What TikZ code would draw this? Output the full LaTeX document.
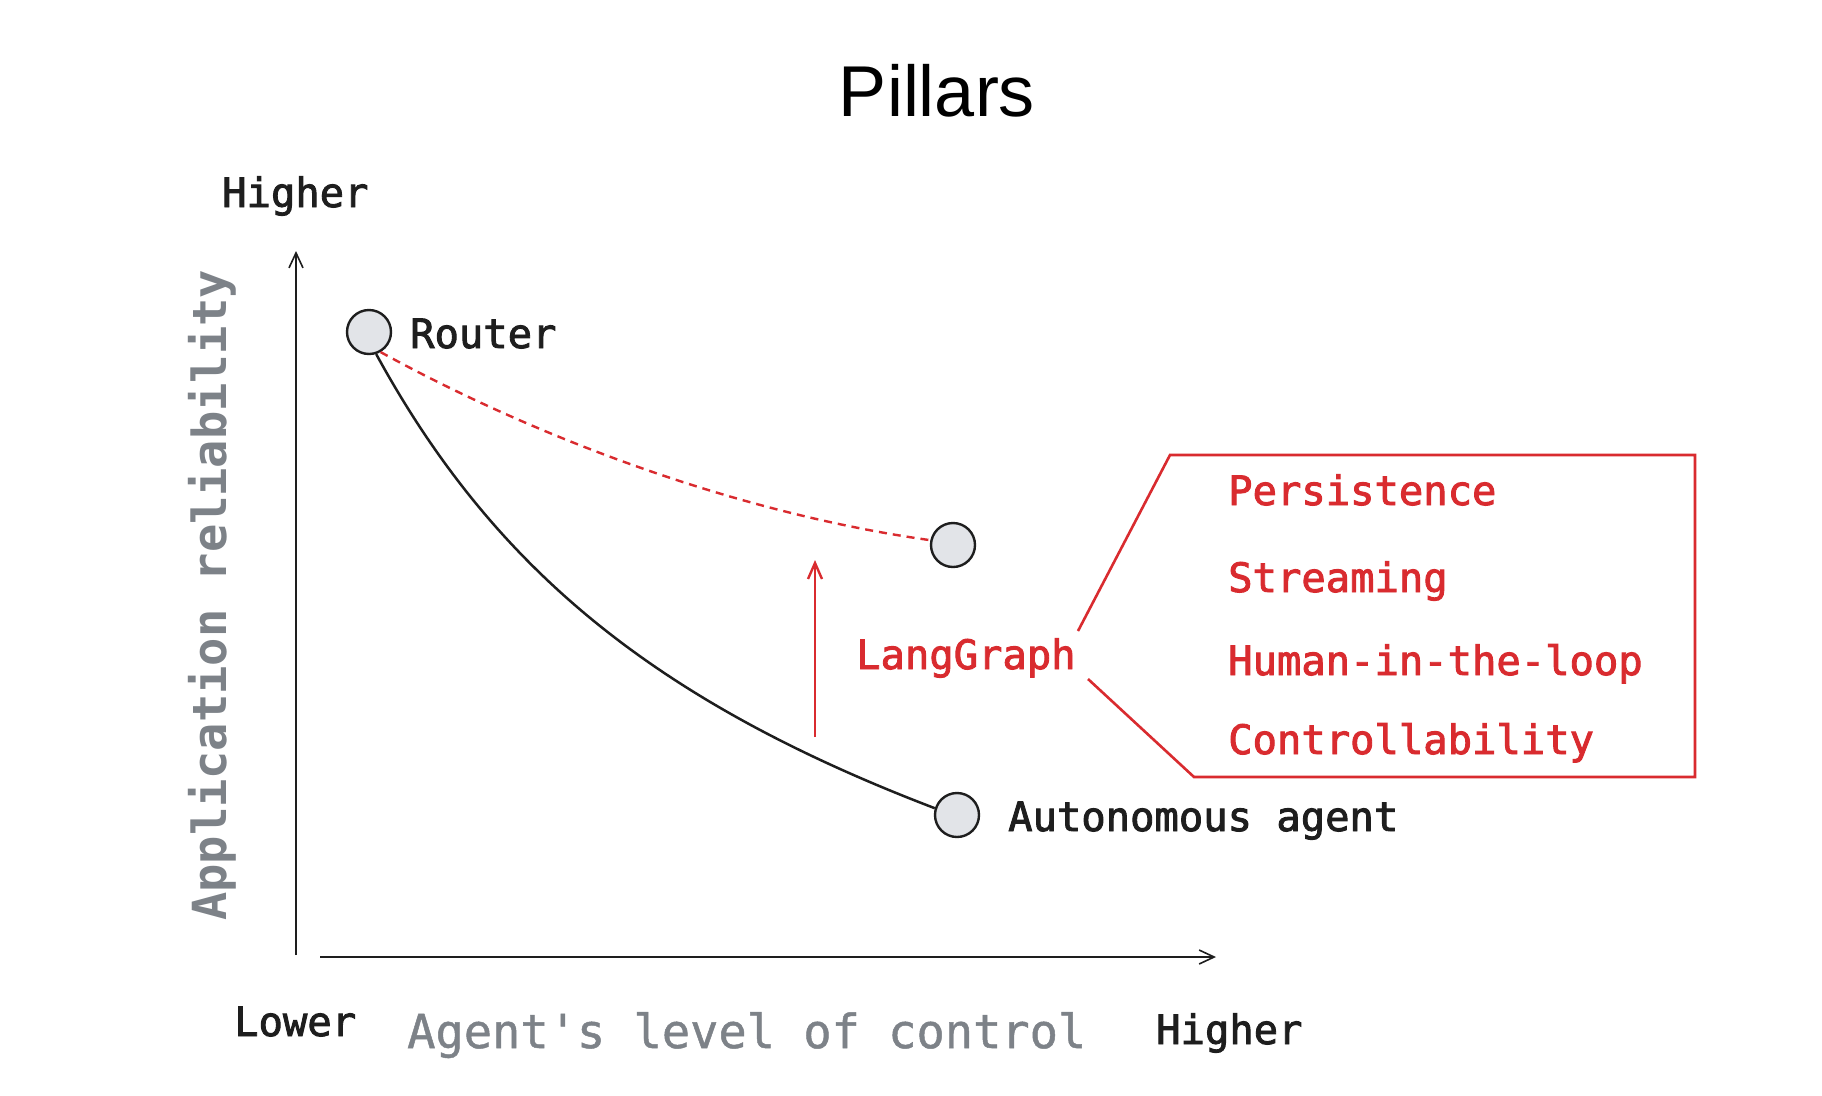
\documentclass[tikz,border=0pt]{standalone}
\usepackage{fontspec}
\setmainfont{Liberation Sans}
\newfontfamily\mymono[FakeBold=2.2]{DejaVu Sans Mono}
\newfontfamily\mymonolight[FakeBold=1.0]{DejaVu Sans Mono}
\newfontfamily\mymonobold{DejaVu Sans Mono Bold}
\usetikzlibrary{arrows.meta}
\definecolor{ink}{HTML}{1E1E1E}
\definecolor{lgred}{HTML}{D92B2F}
\definecolor{axisgray}{HTML}{7D8288}
\definecolor{dotfill}{HTML}{E2E4E8}
\tikzset{
  lbl/.style={anchor=base west, inner sep=0pt, text=ink, font=\mymono\fontsize{40.5}{48}\selectfont},
  redlbl/.style={lbl, text=lgred},
  axtitle/.style={anchor=base west, inner sep=0pt, text=axisgray},
  dot/.style={circle, draw=ink, fill=dotfill, line width=2.4pt, minimum size=44pt, inner sep=0pt},
  axisline/.style={draw=ink, line width=1.6pt, -{Straight Barb[length=15pt,width=14pt,line width=1.6pt]}},
  curveline/.style={draw=ink, line width=2.5pt},
  dashline/.style={draw=lgred, line width=2.4pt, dash pattern=on 8pt off 6pt},
  redarrow/.style={draw=lgred, line width=2.6pt, -{Straight Barb[length=16pt,width=14pt,line width=2.4pt]}},
  redbox/.style={draw=lgred, line width=2.6pt, line join=miter}
}
\begin{document}
\begin{tikzpicture}[x=1pt,y=-1pt]
\useasboundingbox[fill=white] (0,0) rectangle (1822,1095);

% title
\node[anchor=base, inner sep=0pt, text=black, font=\fontsize{72}{80}\selectfont] (title) at (937,116) {Pillars};

% axes
\coordinate (yb) at (296,955);
\coordinate (yt) at (296,251);
\coordinate (xl) at (320,957);
\coordinate (xr) at (1216,957);
\draw[axisline] (yb) -- (yt);
\draw[axisline] (xl) -- (xr);

% axis labels
\node[lbl] (yhigh) at (222,207) {Higher};
\node[lbl] (xlow) at (234,1036) {Lower};
\node[lbl] (xhigh) at (1156,1044) {Higher};
\node[axtitle, font=\mymonolight\fontsize{47}{56}\selectfont] (xtitle) at (407,1048) {Agent's level of control};
\node[axtitle, rotate=90, font=\mymonobold\fontsize{47}{56}\selectfont] (ytitle) at (226,921) {Application reliability};

% points
\node[dot] (router) at (369,332) {};
\node[dot] (mid) at (953,545) {};
\node[dot] (agent) at (957,815) {};
\node[lbl] (routerlbl) at (410,348) {Router};
\node[lbl] (agentlbl) at (1008,831) {Autonomous agent};

% curves
\draw[curveline] (router.-72) .. controls (493,568) and (654,701) .. (agent.163);
\draw[dashline] (router.-60) .. controls (550,445) and (750,515) .. (mid.168);

% red arrow
\coordinate (ab) at (815,737);
\coordinate (at) at (815,560);
\draw[redarrow] (ab) -- (at);

% LangGraph and bracket box
\node[redlbl] (lg) at (856,669) {LangGraph};
\coordinate (b1) at (1078,631);
\coordinate (b2) at (1170,455);
\coordinate (b3) at (1695,455);
\coordinate (b4) at (1695,777);
\coordinate (b5) at (1194,777);
\coordinate (b6) at (1088,679);
\draw[redbox] (b1) -- (b2) -- (b3) -- (b4) -- (b5) -- (b6);

\node[redlbl] (p1) at (1228,505) {Persistence};
\node[redlbl] (p2) at (1228,592) {Streaming};
\node[redlbl] (p3) at (1228,675) {Human-in-the-loop};
\node[redlbl] (p4) at (1228,754) {Controllability};
\end{tikzpicture}
\end{document}
